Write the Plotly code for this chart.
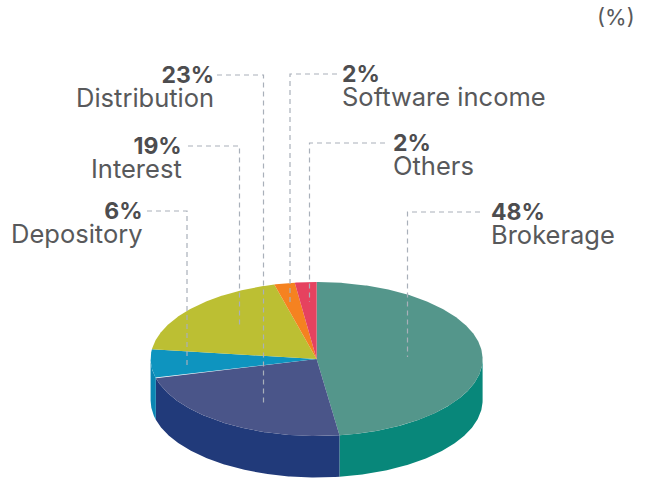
import numpy as np
import plotly.graph_objects as go

categories = ["Brokerage", "Distribution", "Depository", "Interest", "Software income", "Others"]
shares = [48, 23, 6, 19, 2, 2]
slice_sizes = [47.8, 23.2, 6.0, 18.9, 2.0, 2.1]
top_colors = ["#54968b", "#4a5589", "#0e94bf", "#bcbf33", "#f58220", "#e6425f"]
side_colors = ["#08877a", "#213a7a", "#0a86b3", "#a5a82b", "#d9701a", "#c93750"]

W, H = 649, 478
CX, CY, RX, RY, DEPTH = 316.6, 359.0, 166.0, 77.0, 41.5
FONT = "Inter"
LABEL = "#58595b"
BOLD = "#4d4d4f"
LEAD = "#a9b0ba"


def arc(a0, a1, dy=0.0):
    t = np.radians(np.linspace(a0, a1, max(int(abs(a1 - a0) * 2), 2)))
    return CX + RX * np.sin(t), CY + dy - RY * np.cos(t)


fig = go.Figure()
angles = np.concatenate([[0], np.cumsum(slice_sizes) * 3.6])

# side wall
for i, name in enumerate(categories):
    a0, a1 = max(angles[i], 90), min(angles[i + 1], 270)
    if a1 <= a0:
        continue
    x, y = arc(a0, a1)
    xb, yb = arc(a1, a0, DEPTH)
    fig.add_trace(go.Scatter(x=np.r_[x, xb], y=np.r_[y, yb], fill="toself", mode="lines",
                             line=dict(width=0, color=side_colors[i]), fillcolor=side_colors[i],
                             hoverinfo="skip", showlegend=False))
# top face
for i, name in enumerate(categories):
    x, y = arc(angles[i], angles[i + 1])
    fig.add_trace(go.Scatter(x=np.r_[CX, x, CX], y=np.r_[CY, y, CY], fill="toself", mode="lines",
                             line=dict(width=0, color=top_colors[i]), fillcolor=top_colors[i],
                             name=name, text=f"{shares[i]}%", hoverinfo="name+text", showlegend=False))

# leader: (text side, label x, leader start x, y of leader, elbow x, end y)
leaders = {
    "Distribution": ("right", 216, 217, 75, 263.5, 403),
    "Interest": ("right", 184, 188, 146, 239.5, 327),
    "Depository": ("right", 145, 147, 211, 187, 365),
    "Software income": ("left", 340, 337, 74, 290, 302),
    "Others": ("left", 391, 385, 143, 309.5, 302),
    "Brokerage": ("left", 489, 480, 212, 407.5, 357),
}
annotations = []
for name, share in zip(categories, shares):
    side, lx, sx, ly, ex, ey = leaders[name]
    fig.add_trace(go.Scatter(x=[sx, ex, ex], y=[ly, ly, ey], mode="lines", hoverinfo="skip",
                             line=dict(color=LEAD, width=1.2, dash="5px,4px"), showlegend=False))
    text = (f'<span style="font-size:23px;color:{BOLD}"><b>{share}%</b></span><br>'
            f'<span style="font-size:25.5px">{name}</span>')
    annotations.append(dict(x=lx, y=ly - 16, xref="x", yref="y", text=text, showarrow=False,
                            xanchor=side, yanchor="top", align=side,
                            font=dict(family=FONT, size=18.8, color=LABEL)))
annotations.append(dict(x=637, y=17, xref="x", yref="y", text="(%)", showarrow=False, xanchor="right",
                        yanchor="middle", font=dict(family=FONT, size=22, color=LABEL)))

fig.update_layout(
    width=W, height=H, autosize=False, margin=dict(l=0, r=0, t=0, b=0),
    paper_bgcolor="white", plot_bgcolor="white", annotations=annotations,
    xaxis=dict(range=[0, W], visible=False, fixedrange=True),
    yaxis=dict(range=[H, 0], visible=False, fixedrange=True),
)
fig.write_html("out.html", config=dict(displayModeBar=False),
               post_script="document.body.style.margin='0';document.body.style.overflow='hidden';")
